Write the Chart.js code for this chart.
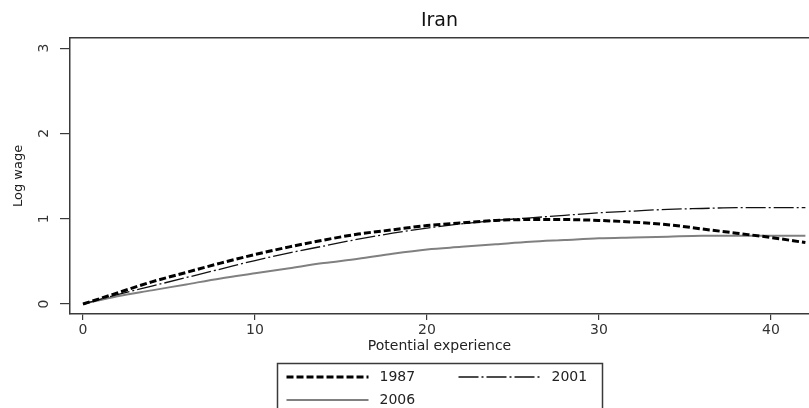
<!DOCTYPE html>
<html>
<head>
<meta charset="utf-8">
<script src="https://cdn.jsdelivr.net/npm/chart.js@4.4.1/dist/chart.umd.min.js"></script>
<style>
  html, body { margin: 0; padding: 0; background: #fff; }
  #wrap { width: 809px; height: 408px; }
</style>
</head>
<body>
<div id="wrap"><canvas id="lChart"></canvas></div>
<script>
// Chart data
var experience = [0, 2, 4, 6, 8, 10, 12, 14, 16, 18, 20, 22, 24, 26, 28, 30, 32, 34, 36, 38, 40, 42];
var wage1987 = [0, 0.13, 0.26, 0.37, 0.48, 0.58, 0.67, 0.75, 0.82, 0.87, 0.92, 0.95, 0.98, 0.99, 0.99, 0.98, 0.96, 0.93, 0.88, 0.83, 0.78, 0.72];
var wage2001 = [0, 0.11, 0.21, 0.31, 0.41, 0.51, 0.60, 0.68, 0.76, 0.83, 0.89, 0.94, 0.98, 1.01, 1.04, 1.07, 1.09, 1.11, 1.12, 1.13, 1.13, 1.13];
var wage2006 = [0, 0.09, 0.16, 0.23, 0.30, 0.36, 0.42, 0.48, 0.53, 0.59, 0.64, 0.67, 0.70, 0.73, 0.75, 0.77, 0.78, 0.79, 0.80, 0.80, 0.80, 0.80];
var xTicks = [0, 10, 20, 30, 40];
var yTicks = [0, 1, 2, 3];
var seriesLabels = ["1987", "2001", "2006"];

function toPoints(ys) {
  return experience.map(function(x, i){ return { x: x, y: ys[i] }; });
}

var FONT = "'DejaVu Sans', sans-serif";
var AXIS = "#3a3a3a";

// Stata-style boxed legend + top frame line
var boxLegend = {
  id: 'boxLegend',
  afterDraw: function(chart){
    var ctx = chart.ctx, a = chart.chartArea;
    ctx.save();
    ctx.strokeStyle = AXIS;
    ctx.lineWidth = 1.5;
    ctx.beginPath();
    ctx.moveTo(a.left, a.top);
    ctx.lineTo(a.right, a.top);
    ctx.stroke();

    var boxW = 325;
    var left = Math.round((a.left + a.right) / 2 - boxW / 2) + 0.5;
    var top = 363.5;
    ctx.lineWidth = 1.5;
    ctx.strokeRect(left, top, boxW, 80);

    ctx.font = "14px " + FONT;
    ctx.textBaseline = 'middle';
    ctx.fillStyle = '#222';
    var spots = [[0, 377], [172, 377], [0, 400]];
    chart.data.datasets.forEach(function(ds, i){
      var cx = left + spots[i][0], cy = spots[i][1];
      ctx.save();
      ctx.strokeStyle = ds.borderColor;
      ctx.lineWidth = ds.borderWidth;
      ctx.setLineDash(ds.borderDash || []);
      ctx.beginPath();
      ctx.moveTo(cx + 9, cy);
      ctx.lineTo(cx + 91, cy);
      ctx.stroke();
      ctx.restore();
      ctx.fillText(ds.label, cx + 102, cy);
    });
    ctx.restore();
  }
};

var lineChart = new Chart(document.getElementById('lChart').getContext('2d'), {
  type: 'line',
  data: {
    datasets: [
      {
        label: seriesLabels[0],
        data: toPoints(wage1987),
        borderColor: "#000",
        borderWidth: 3,
        borderDash: [7, 3],
        order: 1
      },
      {
        label: seriesLabels[1],
        data: toPoints(wage2001),
        borderColor: "#111",
        borderWidth: 1.3,
        borderDash: [20, 3, 2, 3],
        order: 2
      },
      {
        label: seriesLabels[2],
        data: toPoints(wage2006),
        borderColor: "#808080",
        borderWidth: 2,
        order: 3
      }
    ]
  },
  plugins: [boxLegend],
  options: {
    responsive: true,
    maintainAspectRatio: false,
    animation: false,
    events: [],
    elements: {
      point: { radius: 0 },
      line: { tension: 0.4, cubicInterpolationMode: 'monotone', fill: false }
    },
    layout: { padding: { left: 0, right: 0, top: 0, bottom: 0 } },
    plugins: {
      legend: { display: false },
      tooltip: { enabled: false },
      title: {
        display: true,
        text: "Iran",
        fullSize: false,
        color: "#111",
        font: { family: FONT, size: 19, weight: 'normal' },
        padding: { top: 10, bottom: 5 }
      }
    },
    scales: {
      x: {
        type: 'linear',
        min: -0.756,
        max: 42.21,
        afterBuildTicks: function(scale){ scale.ticks = xTicks.map(function(v){ return { value: v }; }); },
        afterFit: function(scale){ scale.height = 94; },
        border: { display: true, color: AXIS, width: 1.5 },
        grid: { display: true, drawOnChartArea: false, drawTicks: true, tickLength: 6, color: AXIS, lineWidth: 1.2 },
        ticks: { color: "#333", font: { family: FONT, size: 14 }, padding: 2, maxRotation: 0 },
        title: {
          display: true,
          text: "Potential experience",
          color: "#222",
          font: { family: FONT, size: 14 },
          padding: { top: 0, bottom: 53.6 }
        }
      },
      y: {
        type: 'linear',
        min: -0.117,
        max: 3.121,
        afterBuildTicks: function(scale){ scale.ticks = yTicks.map(function(v){ return { value: v }; }); },
        afterFit: function(scale){ scale.width = 70; },
        border: { display: true, color: AXIS, width: 1.5 },
        grid: { display: true, drawOnChartArea: false, drawTicks: true, tickLength: 10, color: AXIS, lineWidth: 1.2 },
        ticks: { color: "#333", font: { family: FONT, size: 14 }, padding: 11.5, minRotation: 90, maxRotation: 90, crossAlign: 'center' },
        title: {
          display: true,
          text: "Log wage",
          color: "#222",
          font: { family: FONT, size: 13 },
          padding: { top: 10.6, bottom: 0 }
        }
      }
    }
  }
});
</script>
</body>
</html>
